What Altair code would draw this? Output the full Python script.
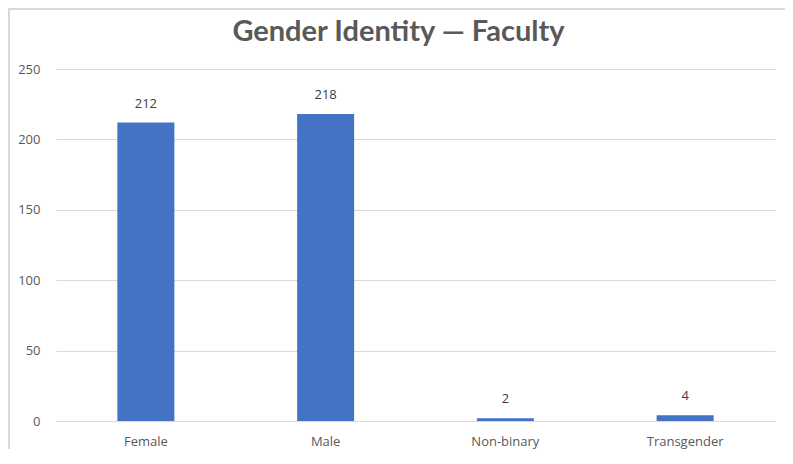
import altair as alt
import pandas as pd

categories = ["Female", "Male", "Non-binary", "Transgender"]
counts = [212, 218, 2, 4]
title_text = "Gender Identity \u2014 Faculty"

df = pd.DataFrame({"cat": categories, "n": counts})

x = alt.X("cat:N", sort=categories, title=None,
          scale=alt.Scale(paddingInner=0, paddingOuter=0),
          axis=alt.Axis(labelAngle=0, labelFont="Open Sans", labelFontSize=13,
                        labelColor="#595959", labelPadding=14, ticks=False,
                        domainColor="#d9d9d9", domainWidth=1))
y = alt.Y("n:Q", title=None,
          scale=alt.Scale(domain=[0, 250], nice=False),
          axis=alt.Axis(values=[0, 50, 100, 150, 200, 250], labelFont="Open Sans",
                        labelFontSize=13, labelColor="#595959", labelPadding=16,
                        ticks=False, domain=False, gridColor="#d9d9d9", gridWidth=1))

border = alt.Chart(df).mark_rect(fill=None, stroke="#d9d9d9", strokeWidth=1.5).encode(
    x=alt.value(-47), x2=alt.value(1200), y=alt.value(-60), y2=alt.value(800))

bars = alt.Chart(df).mark_bar(color="#4472C4", width=57).encode(x=x, y=y)
labels = alt.Chart(df).mark_text(dy=-12, baseline="bottom", font="Open Sans",
                                 fontSize=13, color="#404040").encode(
    x=alt.X("cat:N", sort=categories), y="n:Q", text="n:Q")

chart = alt.layer(border, bars, labels).properties(
    width=719, height=352,
    title=alt.TitleParams(title_text, font="Lato", fontSize=29, fontWeight="bold",
                          color="#595959", anchor="middle", frame="group",
                          dx=-17, offset=-39),
    autosize=alt.AutoSizeParams(type="none"),
    padding={"left": 48, "top": 61, "right": 10, "bottom": 28},
).configure_view(stroke=None)

chart.save("out.html", embed_options={"renderer": "svg", "actions": False})
